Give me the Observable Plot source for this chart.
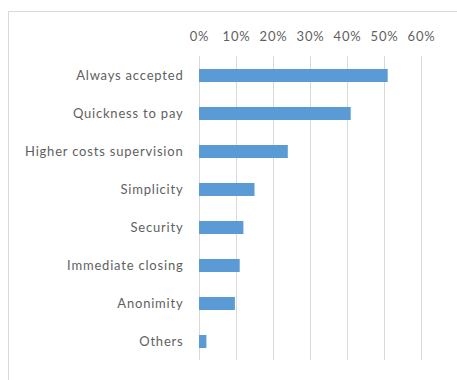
<!DOCTYPE html>
<html>
<head>
<meta charset="utf-8">
<script src="https://cdn.jsdelivr.net/npm/d3@7"></script>
<script src="https://cdn.jsdelivr.net/npm/@observablehq/plot@0.6"></script>
<style>
  html, body { margin: 0; padding: 0; background: #fff; }
  #wrap { position: relative; width: 457px; height: 380px; overflow: hidden; }
  #border { position: absolute; left: 8px; top: 11px; width: 460px; height: 380px;
            border-left: 1px solid #d9d9d9; border-top: 1px solid #d9d9d9; box-sizing: border-box; }
  #chart { position: absolute; left: 0; top: 0; }
  #chart text { letter-spacing: 0.8px; }
</style>
</head>
<body>
<div id="wrap"><div id="border"></div><div id="chart"></div></div>
<script>
const categories = ["Always accepted", "Quickness to pay", "Higher costs supervision", "Simplicity", "Security", "Immediate closing", "Anonimity", "Others"];
const values = [0.51, 0.41, 0.24, 0.15, 0.12, 0.11, 0.097, 0.02];
const xTicks = [0, 0.1, 0.2, 0.3, 0.4, 0.5, 0.6];

const data = categories.map((c, i) => ({category: c, value: values[i]}));

const chart = Plot.plot({
  width: 457,
  height: 380,
  marginLeft: 199,
  marginRight: 36,
  marginTop: 56,
  marginBottom: 20,
  style: {fontFamily: "Lato, 'Open Sans', sans-serif", fontSize: "13px", color: "#5f5f5f", background: "transparent"},
  x: {domain: [0, 0.6], axis: null},
  y: {domain: categories, paddingInner: 0.66, paddingOuter: 0.33, axis: null},
  marks: [
    Plot.gridX(xTicks, {stroke: "#d9d9d9", strokeOpacity: 1, strokeWidth: 1}),
    Plot.barX(data, {x: "value", y: "category", fill: "#5b9bd5"}),
    Plot.axisX(xTicks, {anchor: "top", label: null, tickSize: 0, tickPadding: 16, tickFormat: d3.format(".0%"), fill: "#5f5f5f", fontSize: 13}),
    Plot.axisY(categories, {anchor: "left", label: null, tickSize: 0, tickPadding: 16, fill: "#5f5f5f", fontSize: 13})
  ]
});
document.getElementById("chart").appendChild(chart);
</script>
</body>
</html>
